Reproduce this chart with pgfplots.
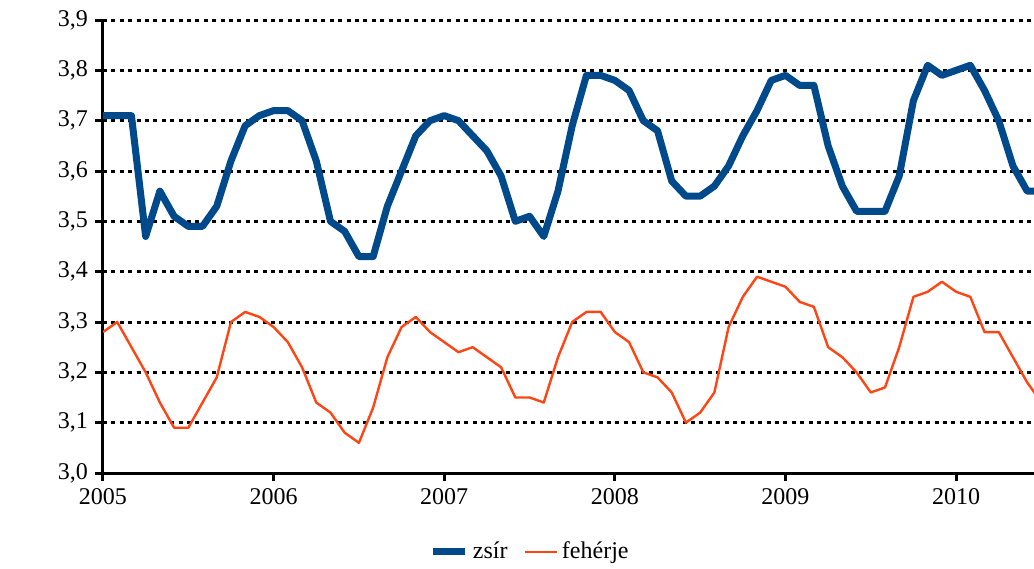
\documentclass[border=0pt]{standalone}
\usepackage{pgfplots}
\pgfplotsset{compat=1.18}
\usepackage{pgfplotstable}
\usepackage{fontspec}
\setmainfont{Liberation Serif}
\definecolor{zsir}{RGB}{0,74,140}
\definecolor{feherje}{RGB}{255,69,20}

% havi adatok, m = honap 2005 januartol
\pgfplotstableread{
m  zsir feherje
0  3.71 3.28
1  3.71 3.30
2  3.71 3.25
3  3.47 3.20
4  3.56 3.14
5  3.51 3.09
6  3.49 3.09
7  3.49 3.14
8  3.53 3.19
9  3.62 3.30
10 3.69 3.32
11 3.71 3.31
12 3.72 3.29
13 3.72 3.26
14 3.70 3.21
15 3.62 3.14
16 3.50 3.12
17 3.48 3.08
18 3.43 3.06
19 3.43 3.13
20 3.53 3.23
21 3.60 3.29
22 3.67 3.31
23 3.70 3.28
24 3.71 3.26
25 3.70 3.24
26 3.67 3.25
27 3.64 3.23
28 3.59 3.21
29 3.50 3.15
30 3.51 3.15
31 3.47 3.14
32 3.56 3.23
33 3.69 3.30
34 3.79 3.32
35 3.79 3.32
36 3.78 3.28
37 3.76 3.26
38 3.70 3.20
39 3.68 3.19
40 3.58 3.16
41 3.55 3.10
42 3.55 3.12
43 3.57 3.16
44 3.61 3.29
45 3.67 3.35
46 3.72 3.39
47 3.78 3.38
48 3.79 3.37
49 3.77 3.34
50 3.77 3.33
51 3.65 3.25
52 3.57 3.23
53 3.52 3.20
54 3.52 3.16
55 3.52 3.17
56 3.59 3.25
57 3.74 3.35
58 3.81 3.36
59 3.79 3.38
60 3.80 3.36
61 3.81 3.35
62 3.76 3.28
63 3.70 3.28
64 3.61 3.23
65 3.56 3.18
66 3.56 3.14
}\tejadat

\begin{document}
\begin{tikzpicture}
\begin{axis}[
    scale only axis,
    width=465.5pt, height=226.5pt,
    xmin=0, xmax=65.48,
    ymin=3.0, ymax=3.9,
    axis lines=left,
    axis line style={-, line width=1.5pt},
    xtick={0,12,24,36,48,60},
    xticklabels={2005,2006,2007,2008,2009,2010},
    ytick={3.0,3.1,3.2,3.3,3.4,3.5,3.6,3.7,3.8,3.9},
    /pgf/number format/assume math mode=true,
    yticklabel={\pgfmathprintnumber[fixed,fixed zerofill,precision=1,use comma]{\tick}},
    tick align=outside,
    major tick length=4pt,
    tick style={black, line width=1.5pt},
    ymajorgrids,
    grid style={black, line width=1.5pt, dash pattern=on 2pt off 2.2pt},
    tick label style={font=\rmfamily\fontsize{12}{14}\selectfont},
    legend style={at={(rel axis cs:0.46,-0.174)}, anchor=center, draw=none,
        font=\rmfamily\fontsize{12}{14}\selectfont, legend columns=-1,
        /tikz/every even column/.append style={column sep=6pt}},
    legend image code/.code={\draw[#1] (0pt,0pt) -- (16pt,0pt);},
]
\addplot[color=zsir, line width=3.5pt, line join=round] table[x=m, y=zsir] {\tejadat};
\addplot[color=feherje, line width=1.2pt, line join=round] table[x=m, y=feherje] {\tejadat};
\legend{zsír, fehérje}
\coordinate (bl) at (rel axis cs:0,0);
\coordinate (tr) at (rel axis cs:1,1);
\node[rotate=90, font=\rmfamily\fontsize{12}{14}\selectfont] at (rel axis cs:-0.0838,0.514) {százalék};
\end{axis}
\pgfresetboundingbox
\path ([shift={(-51.5pt,-47.5pt)}]bl) rectangle ([shift={(0pt,10pt)}]tr);
\end{tikzpicture}
\end{document}
